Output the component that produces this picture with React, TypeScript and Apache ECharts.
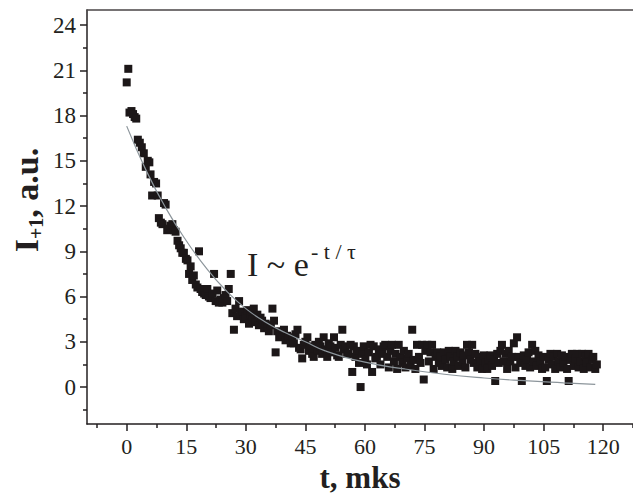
import React, { useEffect, useRef } from "react";
import * as echarts from "echarts";

const X_MAJOR = [0, 15, 30, 45, 60, 75, 90, 105, 120];
const X_MINOR = [-7.5, 7.5, 22.5, 37.5, 52.5, 67.5, 82.5, 97.5, 112.5, 127.5];
const Y_MAJOR = [0, 3, 6, 9, 12, 15, 18, 21, 24];
const Y_MINOR = [-1.5, 1.5, 4.5, 7.5, 10.5, 13.5, 16.5, 19.5, 22.5];

const SCATTER: number[][] = [
  [0.0, 20.2], [0.4, 21.1], [0.7, 18.2], [1.2, 18.3], [1.6, 18.1], [2.0, 17.9], [2.4, 17.8],
  [2.8, 16.4], [3.3, 16.2], [3.8, 15.9], [4.3, 15.5], [4.8, 14.6], [5.3, 15.0], [5.7, 14.9], [6.0, 14.1],
  [6.4, 12.7], [6.9, 13.6], [7.4, 13.5], [7.8, 12.7], [8.1, 11.2], [8.6, 10.9], [9.0, 10.8], [9.4, 12.2],
  [9.8, 12.1], [10.2, 10.4], [10.6, 10.5], [11.0, 10.7], [11.5, 10.8], [11.9, 10.4], [12.3, 10.3], [12.8, 9.7],
  [13.2, 9.4], [13.6, 9.2], [14.0, 8.9], [14.4, 8.9], [14.9, 8.5], [15.3, 8.4], [15.7, 7.5], [16.1, 8.0],
  [16.5, 7.1], [16.9, 7.4], [17.4, 6.8], [17.8, 6.6], [18.2, 9.0], [18.6, 6.5], [19.0, 6.3], [19.5, 6.2],
  [19.9, 6.1], [20.3, 6.5], [20.7, 6.0], [21.1, 5.9], [21.6, 6.2], [22.0, 7.5], [22.4, 5.7], [22.8, 6.4],
  [23.2, 5.6], [23.6, 5.8], [24.1, 5.6], [24.5, 5.9], [24.9, 6.1], [25.3, 5.7], [25.7, 6.5], [26.2, 7.5],
  [26.6, 4.9], [27.0, 3.8], [27.4, 5.2], [27.8, 4.7], [28.3, 5.7], [28.7, 4.9], [29.1, 5.0], [29.5, 4.5],
  [29.9, 4.7], [30.4, 5.1], [30.8, 4.2], [31.2, 4.8], [31.6, 4.5], [32.0, 5.2], [32.5, 4.3], [32.9, 4.8],
  [33.3, 4.1], [33.7, 4.6], [34.1, 4.4], [34.6, 3.9], [35.0, 4.2], [35.4, 4.0], [35.8, 3.7], [36.3, 4.1],
  [36.7, 5.2], [37.1, 4.4], [37.5, 2.3], [37.9, 3.7], [38.4, 3.3], [38.8, 3.6], [39.2, 3.5], [39.6, 3.8],
  [40.0, 3.1], [40.4, 3.4], [40.8, 3.3], [41.3, 2.9], [41.7, 3.1], [42.1, 2.9], [42.5, 3.5], [43.0, 3.8],
  [43.4, 2.6], [43.8, 2.5], [44.2, 1.9], [44.6, 2.8],
  [45.0, 3.0], [45.5, 3.3], [45.9, 2.4], [46.3, 2.7], [46.7, 2.2], [47.1, 2.0], [47.5, 2.8], [48.0, 2.4],
  [48.4, 3.0], [48.8, 2.7], [49.2, 2.2], [49.6, 3.3], [50.0, 2.5], [50.5, 2.0], [50.9, 2.9], [51.3, 2.7],
  [51.7, 2.3], [52.2, 3.3], [52.6, 2.6], [53.0, 2.1], [53.4, 2.0], [53.9, 2.8], [54.3, 3.8], [54.7, 2.5],
  [55.1, 2.7], [55.5, 2.2], [55.9, 2.2], [56.4, 2.8], [56.8, 1.0], [57.2, 2.7], [57.6, 2.0], [58.0, 2.4],
  [58.5, 1.6], [58.9, 0.0], [59.3, 2.2], [59.7, 2.7], [60.1, 1.8], [60.5, 1.5], [61.0, 2.3], [61.4, 2.8],
  [61.8, 1.0], [62.2, 2.7], [62.6, 1.9], [63.0, 2.0], [63.5, 2.5], [63.9, 1.5], [64.3, 2.2], [64.7, 2.7],
  [65.1, 2.8], [65.6, 2.0], [66.0, 1.3], [66.4, 2.4], [66.8, 2.8], [67.3, 1.7], [67.7, 2.2], [68.1, 1.2],
  [68.5, 2.8], [68.9, 2.0], [69.4, 1.6], [69.8, 2.4], [70.2, 1.3], [70.6, 1.9], [71.0, 2.2], [71.5, 1.4],
  [71.9, 3.8], [72.3, 1.8], [72.7, 1.2], [73.1, 2.8], [73.6, 2.0], [74.0, 1.6], [74.4, 2.8], [74.8, 0.5],
  [75.2, 2.4], [75.7, 2.8], [76.1, 1.7], [76.5, 2.3], [76.9, 2.8], [77.3, 1.2], [77.8, 2.0], [78.2, 2.3],
  [78.6, 1.6], [79.0, 2.0], [79.4, 1.4], [79.9, 2.3], [80.3, 1.8], [80.7, 1.3], [81.1, 2.4], [81.5, 2.0],
  [82.0, 1.2], [82.4, 1.7], [82.8, 2.4], [83.2, 2.0], [83.6, 1.4], [84.1, 2.3], [84.5, 1.7], [84.9, 2.1],
  [85.3, 1.3], [85.7, 2.8], [86.2, 2.3], [86.6, 1.8], [87.0, 2.8], [87.4, 1.6], [87.8, 2.2], [88.3, 1.3],
  [88.7, 2.0], [89.1, 1.7], [89.5, 1.2], [89.9, 2.1], [90.4, 1.6], [90.8, 1.2], [91.2, 1.8], [91.6, 2.1],
  [92.0, 1.4], [92.5, 1.8], [92.8, 0.4], [93.3, 2.2], [93.7, 1.6], [94.1, 2.4], [94.5, 2.8], [94.9, 1.7],
  [95.4, 2.2], [95.8, 1.2], [96.2, 2.4], [96.6, 1.7], [97.0, 2.0], [97.5, 2.9], [97.9, 1.3], [98.3, 3.3],
  [98.7, 2.0], [99.1, 1.6], [99.5, 0.4], [100.0, 2.1], [100.4, 1.4], [100.8, 1.8], [101.2, 2.3], [101.6, 1.3],
  [102.1, 2.8], [102.5, 1.7], [102.9, 2.4], [103.3, 1.4], [103.7, 2.1], [104.2, 1.7], [104.6, 1.2], [105.0, 2.0],
  [105.4, 1.3], [105.8, 0.4], [106.3, 1.8], [106.7, 2.2], [107.1, 1.5], [107.5, 2.0], [107.9, 1.2], [108.4, 2.2],
  [108.8, 1.7], [109.2, 1.3], [109.6, 2.1], [110.0, 1.6], [110.5, 2.0], [110.9, 1.2], [111.3, 0.4], [111.7, 1.8],
  [112.1, 2.2], [112.6, 1.4], [113.0, 1.9], [113.4, 2.2], [113.8, 1.3], [114.2, 1.7], [114.7, 2.2], [115.1, 1.2],
  [115.5, 2.0], [115.9, 1.6], [116.3, 2.2], [116.8, 1.3], [117.2, 1.8], [117.5, 2.0], [118.0, 1.2], [118.4, 1.5],
];

const FIT_T = [0, 5, 10, 15, 20, 25, 30, 35, 40, 45, 50, 60, 70, 80, 90, 100, 110, 118];
const FIT_I = [17.3, 14.3, 11.8, 9.7, 7.9, 6.4, 5.2, 4.3, 3.6, 3.0, 2.4, 1.65, 1.2, 0.85, 0.6, 0.42, 0.28, 0.18];

const SERIF = "'Liberation Serif', 'DejaVu Serif', serif";
const INK = "#231f20";

export default function App() {
  const ref = useRef<HTMLDivElement>(null);
  useEffect(() => {
    if (!ref.current) return;
    const chart = echarts.init(ref.current, undefined, { renderer: "svg" });
    const xBase = { type: "value", min: -10, max: 127.5, splitLine: { show: false } };
    const yBase = { type: "value", min: -2.45, max: 25, splitLine: { show: false } };
    chart.setOption({
      animation: false,
      backgroundColor: "#ffffff",
      grid: { left: 87, top: 10, right: 0, bottom: 70, containLabel: false, outerBoundsMode: "none" },
      xAxis: [
        {
          ...xBase,
          position: "bottom",
          axisLine: { show: true, onZero: false, lineStyle: { color: INK, width: 1.5 } },
          axisTick: { show: true, customValues: X_MAJOR, length: 7, lineStyle: { color: INK, width: 1.5 } },
          axisLabel: { show: true, customValues: X_MAJOR, fontSize: 22, fontFamily: SERIF, color: INK, margin: 11 },
          name: "t, mks",
          nameLocation: "middle",
          nameGap: 37,
          nameTextStyle: { fontSize: 31, fontWeight: "bold", fontFamily: SERIF, color: INK },
        },
        {
          ...xBase,
          position: "bottom",
          axisLine: { show: false, onZero: false },
          axisTick: { show: true, customValues: X_MINOR, length: 4, lineStyle: { color: INK, width: 1.5 } },
          axisLabel: { show: false },
        },
        {
          ...xBase,
          position: "top",
          axisLine: { show: true, onZero: false, lineStyle: { color: "#4a4647", width: 1.5 } },
          axisTick: { show: false },
          axisLabel: { show: false },
        },
      ],
      yAxis: [
        {
          ...yBase,
          position: "left",
          axisLine: { show: true, onZero: false, lineStyle: { color: INK, width: 1.5 } },
          axisTick: { show: true, customValues: Y_MAJOR, length: 7, lineStyle: { color: INK, width: 1.5 } },
          axisLabel: { show: true, customValues: Y_MAJOR, fontSize: 23, fontFamily: SERIF, color: INK, margin: 11 },
        },
        {
          ...yBase,
          position: "left",
          axisLine: { show: false, onZero: false },
          axisTick: { show: true, customValues: Y_MINOR, length: 4, lineStyle: { color: INK, width: 1.5 } },
          axisLabel: { show: false },
        },
      ],
      graphic: [
        {
          type: "text",
          x: 26,
          y: 200,
          rotation: Math.PI / 2,
          style: {
            text: "{b|I}{s|+1}{b|, a.u.}",
            align: "center",
            verticalAlign: "middle",
            rich: {
              b: { fontSize: 34, fontWeight: "bold", fontFamily: SERIF, fill: INK },
              s: { fontSize: 20, fontWeight: "bold", fontFamily: SERIF, fill: INK, padding: [20, 0, 0, 0] },
            },
          },
        },
        {
          type: "text",
          x: 247,
          y: 264,
          style: { text: "I ~ e", fontSize: 34, fontFamily: SERIF, fill: INK, align: "left", verticalAlign: "middle" },
        },
        {
          type: "text",
          x: 311,
          y: 251,
          style: { text: "- t / τ", fontSize: 22, fontFamily: SERIF, fill: INK, align: "left", verticalAlign: "middle" },
        },
      ],
      series: [
        {
          type: "scatter",
          xAxisIndex: 0,
          yAxisIndex: 0,
          symbol: "rect",
          symbolSize: 8,
          itemStyle: { color: "#1c1718", opacity: 1 },
          data: SCATTER,
          silent: true,
        },
        {
          type: "line",
          xAxisIndex: 0,
          yAxisIndex: 0,
          smooth: true,
          showSymbol: false,
          symbol: "none",
          lineStyle: { color: "#8c959b", width: 1.2 },
          data: FIT_T.map((t, i) => [t, FIT_I[i]]),
          silent: true,
        },
      ],
    });
    return () => chart.dispose();
  }, []);
  return <div ref={ref} style={{ position: "fixed", left: 0, top: 0, width: 633, height: 494 }} />;
}
